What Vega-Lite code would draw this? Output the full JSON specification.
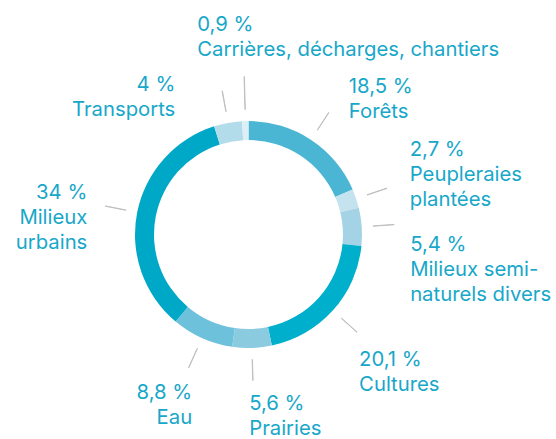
{
  "$schema": "https://vega.github.io/schema/vega-lite/v6.json",
  "width": 497,
  "height": 409,
  "autosize": {"type": "none"},
  "padding": {"left": 0, "top": 30, "right": 59, "bottom": 0},
  "background": "white",
  "config": {
    "view": {"stroke": null},
    "text": {"font": "Inter", "fontSize": 20.3, "lineHeight": 25, "lineBreak": "\n", "color": "#17A7C9", "baseline": "alphabetic"}
  },
  "data": {
    "values": [
      {"order": 1, "name": "Forêts", "value": 18.5, "label": "18,5 %\nForêts"},
      {"order": 2, "name": "Peupleraies plantées", "value": 2.7, "label": "2,7 %\nPeupleraies\nplantées"},
      {"order": 3, "name": "Milieux semi-naturels divers", "value": 5.4, "label": "5,4 %\nMilieux semi-\nnaturels divers"},
      {"order": 4, "name": "Cultures", "value": 20.1, "label": "20,1 %\nCultures"},
      {"order": 5, "name": "Prairies", "value": 5.6, "label": "5,6 %\nPrairies"},
      {"order": 6, "name": "Eau", "value": 8.8, "label": "8,8 %\nEau"},
      {"order": 7, "name": "Milieux urbains", "value": 34, "label": "34 %\nMilieux\nurbains"},
      {"order": 8, "name": "Transports", "value": 4, "label": "4 %\nTransports"},
      {"order": 9, "name": "Carrières, décharges, chantiers", "value": 0.9, "label": "0,9 %\nCarrières, décharges, chantiers"}
    ]
  },
  "transform": [
    {"window": [{"op": "sum", "field": "value", "as": "cum"}], "sort": [{"field": "order"}], "frame": [null, 0]},
    {"calculate": "datum.cum - datum.value", "as": "start"},
    {"calculate": "datum.cum - datum.value / 2", "as": "mid"},
    {"calculate": "datum.cum - datum.value / 2 + 0.04", "as": "mid2"}
  ],
  "layer": [
    {
      "mark": {"type": "arc", "outerRadius": 113.5, "innerRadius": 94.5},
      "encoding": {
        "theta": {"field": "start", "type": "quantitative", "scale": {"domain": [0, 100]}},
        "theta2": {"field": "cum"},
        "color": {
          "field": "name", "type": "nominal", "legend": null,
          "scale": {
            "domain": ["Forêts", "Peupleraies plantées", "Milieux semi-naturels divers", "Cultures", "Prairies", "Eau", "Milieux urbains", "Transports", "Carrières, décharges, chantiers"],
            "range": ["#4BB6D4", "#C5E3EF", "#A3D3E5", "#00AFCC", "#8ACBE0", "#6DC1DB", "#00A8C8", "#B3DCEB", "#DCEFF6"]
          }
        }
      }
    },
    {
      "transform": [{"filter": "datum.order != 9"}],
      "mark": {"type": "arc", "outerRadius": 146, "innerRadius": 125, "fill": "#BEBEBE", "stroke": "#BEBEBE", "strokeWidth": 0.9},
      "encoding": {
        "theta": {"field": "mid", "type": "quantitative", "scale": {"domain": [0, 100]}},
        "theta2": {"field": "mid2"}
      }
    },
    {
      "transform": [{"filter": "datum.order == 9"}],
      "mark": {"type": "arc", "outerRadius": 158, "innerRadius": 125, "fill": "#BEBEBE", "stroke": "#BEBEBE", "strokeWidth": 0.9},
      "encoding": {
        "theta": {"field": "mid", "type": "quantitative", "scale": {"domain": [0, 100]}},
        "theta2": {"field": "mid2"}
      }
    },
    {
      "transform": [{"filter": "datum.order == 1"}],
      "mark": {"type": "text", "radius": 150, "align": "left", "dx": 18, "dy": -16.5},
      "encoding": {"theta": {"field": "mid", "type": "quantitative", "scale": {"domain": [0, 100]}}, "text": {"field": "label"}}
    },
    {
      "transform": [{"filter": "datum.order == 2"}],
      "mark": {"type": "text", "radius": 150, "align": "left", "dx": 19, "dy": -31},
      "encoding": {"theta": {"field": "mid", "type": "quantitative", "scale": {"domain": [0, 100]}}, "text": {"field": "label"}}
    },
    {
      "transform": [{"filter": "datum.order == 3"}],
      "mark": {"type": "text", "radius": 150, "align": "left", "dx": 12, "dy": 27},
      "encoding": {"theta": {"field": "mid", "type": "quantitative", "scale": {"domain": [0, 100]}}, "text": {"field": "label"}}
    },
    {
      "transform": [{"filter": "datum.order == 4"}],
      "mark": {"type": "text", "radius": 150, "align": "left", "dx": -1, "dy": 31},
      "encoding": {"theta": {"field": "mid", "type": "quantitative", "scale": {"domain": [0, 100]}}, "text": {"field": "label"}}
    },
    {
      "transform": [{"filter": "datum.order == 5"}],
      "mark": {"type": "text", "radius": 150, "align": "left", "dx": -4, "dy": 26},
      "encoding": {"theta": {"field": "mid", "type": "quantitative", "scale": {"domain": [0, 100]}}, "text": {"field": "label"}}
    },
    {
      "transform": [{"filter": "datum.order == 6"}],
      "mark": {"type": "text", "radius": 150, "align": "right", "dx": 5, "dy": 28},
      "encoding": {"theta": {"field": "mid", "type": "quantitative", "scale": {"domain": [0, 100]}}, "text": {"field": "label"}}
    },
    {
      "transform": [{"filter": "datum.order == 7"}],
      "mark": {"type": "text", "radius": 150, "align": "right", "dx": -14, "dy": -6},
      "encoding": {"theta": {"field": "mid", "type": "quantitative", "scale": {"domain": [0, 100]}}, "text": {"field": "label"}}
    },
    {
      "transform": [{"filter": "datum.order == 8"}],
      "mark": {"type": "text", "radius": 150, "align": "right", "dx": -46, "dy": 4},
      "encoding": {"theta": {"field": "mid", "type": "quantitative", "scale": {"domain": [0, 100]}}, "text": {"field": "label"}}
    },
    {
      "transform": [{"filter": "datum.order == 9"}],
      "mark": {"type": "text", "radius": 150, "align": "left", "dx": -47, "dy": -54},
      "encoding": {"theta": {"field": "mid", "type": "quantitative", "scale": {"domain": [0, 100]}}, "text": {"field": "label"}}
    }
  ]
}
